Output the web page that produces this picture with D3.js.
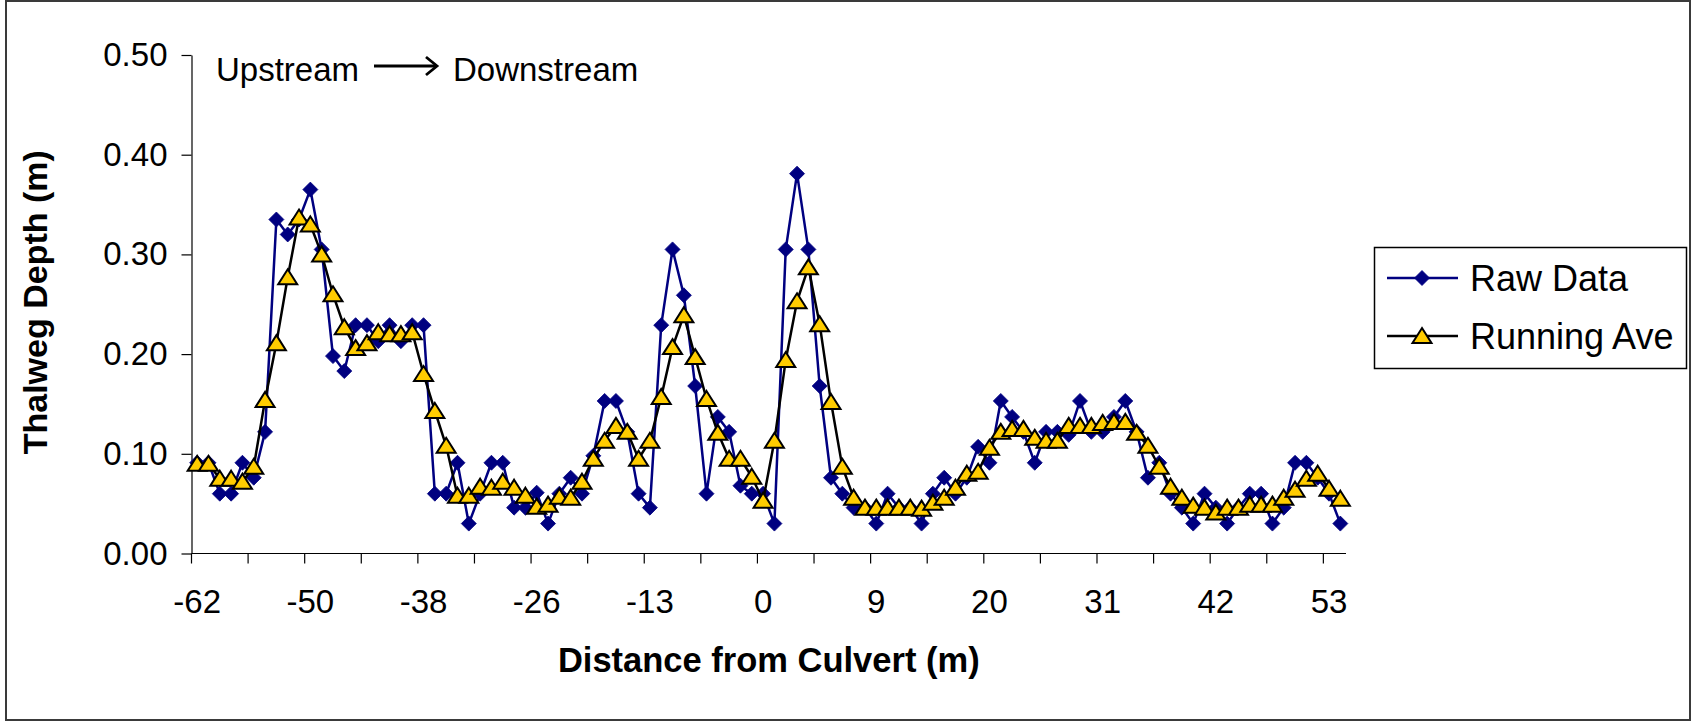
<!DOCTYPE html>
<html>
<head>
<meta charset="utf-8">
<script src="https://cdn.jsdelivr.net/npm/d3@7"></script>
<style>
  html, body { margin: 0; padding: 0; background: #fff; }
  svg { display: block; font-family: "Liberation Sans", Arial, sans-serif; }
</style>
</head>
<body>
<svg id="chart" width="1692" height="721"></svg>
<script>
// ---- data ----
const distances = [
  -62, -60.8, -59.6, -58.4, -57.2, -56, -54.8, -53.6, -52.4, -51.2,
  -50, -48.8, -47.6, -46.4, -45.2, -44, -42.8, -41.6, -40.4, -39.2,
  -38, -36.8, -35.6, -34.4, -33.2, -32, -30.8, -29.6, -28.4, -27.2,
  -26, -24.7, -23.4, -22.1, -20.8, -19.5, -18.2, -16.9, -15.6, -14.3,
  -13, -11.7, -10.4, -9.1, -7.8, -6.5, -5.2, -3.9, -2.6, -1.3,
  0, 0.9, 1.8, 2.7, 3.6, 4.5, 5.4, 6.3, 7.2, 8.1,
  9, 10.1, 11.2, 12.3, 13.4, 14.5, 15.6, 16.7, 17.8, 18.9,
  20, 21.1, 22.2, 23.3, 24.4, 25.5, 26.6, 27.7, 28.8, 29.9,
  31, 32.1, 33.2, 34.3, 35.4, 36.5, 37.6, 38.7, 39.8, 40.9,
  42, 43.1, 44.2, 45.3, 46.4, 47.5, 48.6, 49.7, 50.8, 51.9,
  53, 54.1
];

const rawData = [
  0.091, 0.091, 0.060, 0.060, 0.091, 0.076, 0.122, 0.335, 0.320, 0.335,
  0.365, 0.305, 0.198, 0.183, 0.229, 0.229, 0.213, 0.229, 0.213, 0.229,
  0.229, 0.060, 0.060, 0.091, 0.030, 0.060, 0.091, 0.091, 0.046, 0.046,
  0.061, 0.030, 0.060, 0.076, 0.060, 0.098, 0.153, 0.153, 0.122, 0.060,
  0.046, 0.229, 0.305, 0.259, 0.168, 0.060, 0.137, 0.122, 0.068, 0.060,
  0.060, 0.030, 0.305, 0.381, 0.305, 0.168, 0.076, 0.060, 0.046, 0.046,
  0.030, 0.060, 0.046, 0.046, 0.030, 0.060, 0.076, 0.060, 0.076, 0.107,
  0.091, 0.153, 0.137, 0.122, 0.091, 0.122, 0.122, 0.119, 0.153, 0.122,
  0.122, 0.137, 0.153, 0.122, 0.076, 0.091, 0.060, 0.046, 0.030, 0.060,
  0.046, 0.030, 0.046, 0.060, 0.060, 0.030, 0.046, 0.091, 0.091, 0.076,
  0.060, 0.030
];

const runningAve = [
  0.090, 0.090, 0.075, 0.075, 0.072, 0.087, 0.154, 0.211, 0.277, 0.337,
  0.330, 0.300, 0.260, 0.227, 0.206, 0.211, 0.222, 0.220, 0.220, 0.222,
  0.180, 0.143, 0.108, 0.058, 0.058, 0.067, 0.066, 0.072, 0.066, 0.058,
  0.047, 0.049, 0.057, 0.056, 0.072, 0.095, 0.113, 0.128, 0.122, 0.095,
  0.113, 0.157, 0.207, 0.239, 0.197, 0.155, 0.121, 0.095, 0.095, 0.077,
  0.053, 0.113, 0.194, 0.253, 0.287, 0.230, 0.152, 0.087, 0.056, 0.046,
  0.046, 0.046, 0.046, 0.046, 0.045, 0.051, 0.056, 0.066, 0.080, 0.082,
  0.106, 0.122, 0.125, 0.125, 0.116, 0.113, 0.113, 0.128, 0.128, 0.128,
  0.131, 0.132, 0.132, 0.121, 0.108, 0.087, 0.067, 0.056, 0.048, 0.046,
  0.041, 0.046, 0.046, 0.049, 0.049, 0.049, 0.056, 0.064, 0.075, 0.080,
  0.065, 0.055
];

const yTickValues = [0, 0.1, 0.2, 0.3, 0.4, 0.5];
const seriesNames = ["Raw Data", "Running Ave"];

// ---- layout ----
const svg = d3.select("#chart");
const plotL = 191.5, plotR = 1346, plotT = 55, plotB = 553.5;

const idx = d3.range(distances.length);
const x = d3.scaleBand().domain(idx).range([plotL, plotR]).padding(0);
const y = d3.scaleLinear().domain([0, 0.5]).range([plotB, plotT]);
const cx = i => x(i) + x.bandwidth() / 2;

// outer border
svg.append("rect").attr("x", 6).attr("y", 1).attr("width", 1684).attr("height", 719)
  .attr("fill", "none").attr("stroke", "#3a3a3a").attr("stroke-width", 2);

// y axis
const yAxis = d3.axisLeft(y).tickValues(yTickValues).tickFormat(d3.format(".2f"))
  .tickSizeInner(10).tickSizeOuter(0).tickPadding(14);
const gy = svg.append("g").attr("transform", `translate(${plotL},0)`).call(yAxis);
gy.select(".domain").attr("stroke", "#000").attr("stroke-width", 1.2);
gy.selectAll(".tick line").attr("stroke", "#000").attr("stroke-width", 1.2);
gy.selectAll(".tick text").attr("font-size", 33).attr("fill", "#000")
  .attr("font-family", "'Liberation Sans', Arial, sans-serif");

// x axis: ticks every 5 categories at band boundaries, labels every 10 categories at centres
const gx = svg.append("g").attr("transform", `translate(0,${plotB})`);
gx.append("line").attr("x1", plotL).attr("x2", plotR).attr("y1", 0).attr("y2", 0)
  .attr("stroke", "#000").attr("stroke-width", 1.2);
const tickIdx = idx.filter(i => i % 5 === 0);
gx.selectAll("line.tk").data(tickIdx).join("line").attr("class", "tk")
  .attr("x1", i => x(i)).attr("x2", i => x(i)).attr("y1", 0).attr("y2", 10)
  .attr("stroke", "#000").attr("stroke-width", 1.2);
const labelIdx = idx.filter(i => i % 10 === 0);
gx.selectAll("text").data(labelIdx).join("text")
  .attr("x", i => cx(i)).attr("y", 48)
  .attr("text-anchor", "middle").attr("dominant-baseline", "central")
  .attr("font-size", 33).attr("fill", "#000")
  .text(i => String(Math.round(distances[i])));

// axis titles
svg.append("text").attr("x", (plotL + plotR) / 2).attr("y", 660)
  .attr("text-anchor", "middle").attr("dominant-baseline", "central")
  .attr("font-size", 34.5).attr("font-weight", "bold").text("Distance from Culvert (m)");
svg.append("text").attr("transform", `translate(35,${(plotT + plotB) / 2 - 2}) rotate(-90)`)
  .attr("text-anchor", "middle").attr("dominant-baseline", "central")
  .attr("font-size", 34).attr("font-weight", "bold").text("Thalweg Depth (m)");

// annotation
svg.append("text").attr("x", 216).attr("y", 69).attr("dominant-baseline", "central")
  .attr("font-size", 33).text("Upstream");
svg.append("text").attr("x", 453).attr("y", 69).attr("dominant-baseline", "central")
  .attr("font-size", 33).text("Downstream");
svg.append("line").attr("x1", 374).attr("x2", 436).attr("y1", 66).attr("y2", 66)
  .attr("stroke", "#000").attr("stroke-width", 2.8);
svg.append("path").attr("d", "M426,57 L437,66 L426,75").attr("fill", "none")
  .attr("stroke", "#000").attr("stroke-width", 2.8);

// markers
const diamondPath = "M0,-7.5L7.5,0L0,7.5L-7.5,0Z";
const trianglePath = "M0,-8L9.5,7L-9.5,7Z";

// series 1: raw data
const line = d3.line().x((d, i) => cx(i)).y(d => y(d));
svg.append("path").datum(rawData).attr("d", line)
  .attr("fill", "none").attr("stroke", "#000080").attr("stroke-width", 2.5)
  .attr("stroke-linejoin", "round");
svg.append("g").selectAll("path").data(rawData).join("path")
  .attr("d", diamondPath)
  .attr("transform", (d, i) => `translate(${cx(i)},${y(d)})`)
  .attr("fill", "#000080").attr("stroke", "#000080").attr("stroke-width", 0.8);

// series 2: running average
svg.append("path").datum(runningAve).attr("d", line)
  .attr("fill", "none").attr("stroke", "#000").attr("stroke-width", 2.5)
  .attr("stroke-linejoin", "round");
svg.append("g").selectAll("path").data(runningAve).join("path")
  .attr("d", trianglePath)
  .attr("transform", (d, i) => `translate(${cx(i)},${y(d)})`)
  .attr("fill", "#FFCC00").attr("stroke", "#000").attr("stroke-width", 2)
  .attr("stroke-linejoin", "miter");

// legend
const lg = svg.append("g");
lg.append("rect").attr("x", 1374.5).attr("y", 247.5).attr("width", 312).attr("height", 121)
  .attr("fill", "#fff").attr("stroke", "#000").attr("stroke-width", 1.5);
const rows = [
  { name: seriesNames[0], y: 278, stroke: "#000080", marker: diamondPath, fill: "#000080", mstroke: "#000080", msw: 0.8 },
  { name: seriesNames[1], y: 336, stroke: "#000", marker: trianglePath, fill: "#FFCC00", mstroke: "#000", msw: 2 }
];
rows.forEach(r => {
  lg.append("line").attr("x1", 1387).attr("x2", 1458).attr("y1", r.y).attr("y2", r.y)
    .attr("stroke", r.stroke).attr("stroke-width", 2.5);
  lg.append("path").attr("d", r.marker).attr("transform", `translate(1422,${r.y})`)
    .attr("fill", r.fill).attr("stroke", r.mstroke).attr("stroke-width", r.msw);
  lg.append("text").attr("x", 1470).attr("y", r.y).attr("dominant-baseline", "central")
    .attr("font-size", 36).attr("fill", "#000").text(r.name);
});
</script>
</body>
</html>
